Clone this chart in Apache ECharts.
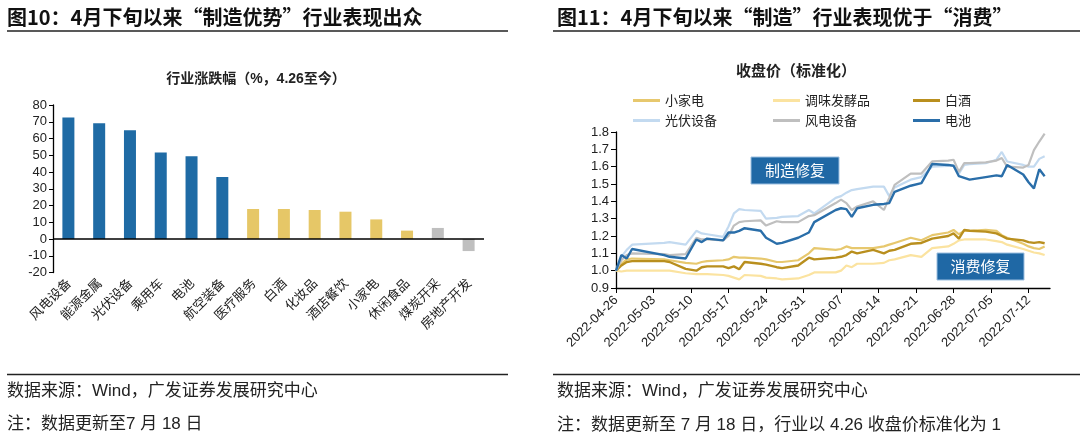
<!DOCTYPE html>
<html>
<head>
<meta charset="utf-8">
<script src="https://cdn.jsdelivr.net/npm/echarts@6/dist/echarts.min.js"></script>
<style>
html,body{margin:0;padding:0;background:#fff;}
#main{width:1080px;height:437px;}
</style>
</head>
<body>
<div id="main"></div>
<script>
// ---- 图10 行业涨跌幅 ----
var industries = ['风电设备','能源金属','光伏设备','乘用车','电池','航空装备','医疗服务','白酒','化妆品','酒店餐饮','小家电','休闲食品','煤炭开采','房地产开发'];
var changePct  = [72.6, 69.1, 64.9, 51.7, 49.4, 37.0, 17.9, 17.9, 17.3, 16.3, 11.7, 5.0, 6.6, -7.2];

// ---- 图11 收盘价（标准化） ----
var weekTicks = ['2022-04-26','2022-05-03','2022-05-10','2022-05-17','2022-05-24','2022-05-31',
                 '2022-06-07','2022-06-14','2022-06-21','2022-06-28','2022-07-05','2022-07-12'];
var tradeDates = ['2022-04-26','2022-04-27','2022-04-28','2022-04-29','2022-05-05','2022-05-06','2022-05-09','2022-05-11',
                  '2022-05-12','2022-05-13','2022-05-16','2022-05-17','2022-05-18','2022-05-19','2022-05-20','2022-05-23',
                  '2022-05-24','2022-05-26','2022-05-27','2022-05-30','2022-06-01','2022-06-02','2022-06-06','2022-06-07',
                  '2022-06-08','2022-06-09','2022-06-10','2022-06-13','2022-06-15','2022-06-16','2022-06-17','2022-06-20',
                  '2022-06-22','2022-06-24','2022-06-27','2022-06-28','2022-06-29','2022-06-30','2022-07-01','2022-07-04',
                  '2022-07-06','2022-07-07','2022-07-08','2022-07-11','2022-07-12','2022-07-13','2022-07-14','2022-07-15'];
var xiaojiadian = [1.00,1.04,1.065,1.07,1.065,1.06,1.045,1.04,1.05,1.055,1.06,1.065,1.08,1.075,1.075,1.07,
                   1.065,1.05,1.05,1.06,1.10,1.13,1.12,1.125,1.14,1.13,1.13,1.13,1.14,1.15,1.16,1.19,
                   1.175,1.205,1.22,1.235,1.21,1.23,1.23,1.235,1.23,1.205,1.19,1.155,1.14,1.13,1.125,1.14];
var tiaowei     = [1.00,0.995,1.00,1.00,1.00,1.00,0.985,0.98,0.98,0.98,0.975,0.97,0.96,0.95,0.975,0.97,
                   0.96,0.955,0.95,0.955,0.975,0.99,0.99,1.00,1.03,1.02,1.04,1.04,1.045,1.06,1.065,1.09,
                   1.08,1.13,1.14,1.155,1.175,1.18,1.18,1.18,1.17,1.165,1.15,1.125,1.115,1.105,1.10,1.09];
var baijiu      = [1.00,1.03,1.05,1.055,1.055,1.05,1.01,1.00,1.02,1.025,1.025,1.015,1.025,1.008,1.05,1.04,
                   1.035,1.02,1.015,1.03,1.075,1.065,1.075,1.08,1.09,1.11,1.10,1.12,1.10,1.115,1.12,1.155,
                   1.16,1.185,1.20,1.215,1.185,1.235,1.23,1.225,1.215,1.20,1.185,1.175,1.165,1.16,1.165,1.158];
var guangfu     = [1.00,1.08,1.12,1.15,1.16,1.165,1.15,1.23,1.215,1.21,1.195,1.255,1.33,1.355,1.35,1.345,
                   1.30,1.305,1.31,1.315,1.35,1.33,1.42,1.43,1.45,1.465,1.47,1.485,1.485,1.43,1.48,1.525,
                   1.54,1.60,1.605,1.605,1.56,1.61,1.615,1.62,1.64,1.685,1.63,1.61,1.60,1.60,1.645,1.66];
var fengdian    = [1.00,1.06,1.09,1.10,1.095,1.09,1.095,1.19,1.18,1.18,1.175,1.20,1.26,1.28,1.285,1.29,
                   1.26,1.285,1.28,1.28,1.315,1.32,1.39,1.41,1.39,1.35,1.37,1.40,1.35,1.42,1.495,1.56,
                   1.56,1.63,1.635,1.64,1.57,1.62,1.62,1.625,1.635,1.65,1.60,1.595,1.61,1.695,1.745,1.79];
var dianchi     = [1.00,1.09,1.07,1.125,1.09,1.08,1.07,1.18,1.165,1.185,1.175,1.22,1.22,1.23,1.245,1.23,
                   1.19,1.155,1.16,1.19,1.22,1.28,1.35,1.36,1.355,1.31,1.36,1.38,1.385,1.39,1.455,1.49,
                   1.505,1.615,1.61,1.605,1.545,1.535,1.525,1.54,1.55,1.545,1.61,1.555,1.51,1.475,1.585,1.545];

var baseTime = Date.parse(weekTicks[0] + 'T00:00:00Z');
function dayOf(s){ return Math.round((Date.parse(s + 'T00:00:00Z') - baseTime) / 86400000); }
function toPairs(vals){ return tradeDates.map(function(d, i){ return [dayOf(d), vals[i]]; }); }
var tickDays = weekTicks.map(dayOf);

var latin = "'Liberation Sans','Noto Sans CJK SC',sans-serif";
var cjk = "'Noto Sans CJK SC','Liberation Sans',sans-serif";

var lineDefs = [
    {name:'小家电',     data:xiaojiadian, color:'#E7C86E', width:2.2},
    {name:'调味发酵品', data:tiaowei,     color:'#FBE3A0', width:2.2},
    {name:'白酒',       data:baijiu,      color:'#B98F1E', width:2.4},
    {name:'光伏设备',   data:guangfu,     color:'#C3DAF0', width:2.2},
    {name:'风电设备',   data:fengdian,    color:'#BFBFBF', width:2.2},
    {name:'电池',       data:dianchi,     color:'#2A6EA9', width:2.4}
];
var legendPos = [[628,89],[768,89],[908,89],[628,109],[768,109],[908,109]];

var chart = echarts.init(document.getElementById('main'));

var series = [{
    type:'bar',
    xAxisIndex:0,
    yAxisIndex:0,
    barWidth:12,
    data:changePct.map(function(v, i){
        var c = i < 6 ? '#1F6BA5' : (i < 12 ? '#E6C767' : '#BFBFBF');
        return {value:v, itemStyle:{color:c}};
    }),
    markLine:{
        silent:true,
        symbol:'none',
        label:{show:false},
        lineStyle:{color:'#000', width:1.5, type:'solid'},
        data:[{yAxis:0}]
    }
}];
lineDefs.forEach(function(s){
    series.push({
        name:s.name,
        type:'line',
        xAxisIndex:1,
        yAxisIndex:1,
        showSymbol:false,
        symbol:'none',
        data:toPairs(s.data),
        lineStyle:{color:s.color, width:s.width},
        itemStyle:{color:s.color}
    });
});

var legends = lineDefs.map(function(s, i){
    return {
        data:[s.name],
        left:legendPos[i][0],
        top:legendPos[i][1],
        icon:'rect',
        itemWidth:27,
        itemHeight:3,
        selectedMode:false,
        textStyle:{fontSize:13, color:'#222', fontFamily:cjk}
    };
});

function txt(x, y, text, font, align, color){
    return {
        type:'text', x:x, y:y, silent:true,
        style:{text:text, font:font, fill:color || '#222',
               textAlign:align || 'left', align:align || 'left',
               textVerticalAlign:'middle', verticalAlign:'middle'}
    };
}
function hline(x1, x2, y){
    return {type:'line', silent:true, shape:{x1:x1, y1:y, x2:x2, y2:y}, style:{stroke:'#222', lineWidth:1.5}};
}
function tagBox(x, y, w, h, text){
    return [
        {type:'rect', silent:true, shape:{x:x, y:y, width:w, height:h}, style:{fill:'#1F68A5', stroke:'#9CBFE0', lineWidth:1}},
        txt(x + w / 2, y + h / 2, text, "15px " + cjk, 'center', '#fff')
    ];
}

var graphics = [
    txt(7, 17, '图10：4月下旬以来“制造优势”行业表现出众', "bold 20px " + cjk, 'left', '#111'),
    txt(557, 17, '图11：4月下旬以来“制造”行业表现优于“消费”', "bold 20px " + cjk, 'left', '#111'),
    hline(7, 508, 31),
    hline(553, 1080, 31),
    txt(256, 79, '行业涨跌幅（%，4.26至今）', "bold 14px " + latin, 'center', '#222'),
    txt(796, 72, '收盘价（标准化）', "bold 15px " + latin, 'center', '#222'),
    hline(7, 508, 374.5),
    hline(553, 1080, 374.5),
    txt(7, 391, '数据来源：Wind，广发证券发展研究中心', "17px " + latin, 'left', '#222'),
    txt(7, 424, '注：数据更新至7 月 18 日', "17px " + latin, 'left', '#222'),
    txt(557, 391, '数据来源：Wind，广发证券发展研究中心', "17px " + latin, 'left', '#222'),
    txt(557, 425, '注：数据更新至 7 月 18 日，行业以 4.26 收盘价标准化为 1', "17px " + latin, 'left', '#222')
].concat(tagBox(751, 157, 88, 27, '制造修复'), tagBox(937, 253, 87, 27, '消费修复'));

var option = {
    backgroundColor:'#fff',
    animation:false,
    textStyle:{fontFamily:latin},
    grid:[
        {left:53, right:596, top:105, bottom:164.5},
        {left:616, right:30, top:132, bottom:149}
    ],
    xAxis:[{
        type:'category',
        gridIndex:0,
        data:industries,
        axisLine:{show:false},
        axisTick:{show:false},
        axisLabel:{interval:0, rotate:45, fontSize:13, color:'#222', margin:8, fontFamily:cjk}
    },{
        type:'value',
        gridIndex:1,
        min:0,
        max:81,
        splitLine:{show:false},
        axisLine:{lineStyle:{color:'#000', width:1.3}},
        axisTick:{show:true, length:5, lineStyle:{color:'#000'}, customValues:tickDays},
        axisLabel:{
            rotate:45, fontSize:13, color:'#222', margin:10,
            customValues:tickDays,
            formatter:function(v){ var i = tickDays.indexOf(Math.round(v)); return i >= 0 ? weekTicks[i] : ''; }
        }
    }],
    yAxis:[{
        type:'value',
        gridIndex:0,
        min:-20,
        max:80,
        interval:10,
        splitLine:{show:false},
        axisLine:{show:true, lineStyle:{color:'#000', width:1.3}},
        axisTick:{show:true, length:4, lineStyle:{color:'#000'}},
        axisLabel:{fontSize:13, color:'#222', margin:6}
    },{
        type:'value',
        gridIndex:1,
        min:0.9,
        max:1.8,
        interval:0.1,
        splitLine:{show:false},
        axisLine:{show:true, lineStyle:{color:'#000', width:1.3}},
        axisTick:{show:true, length:5, lineStyle:{color:'#000'}},
        axisLabel:{fontSize:13, color:'#222', margin:7, formatter:function(v){ return v.toFixed(1); }}
    }],
    legend:legends,
    series:series,
    graphic:graphics
};

chart.setOption(option);
</script>
</body>
</html>
